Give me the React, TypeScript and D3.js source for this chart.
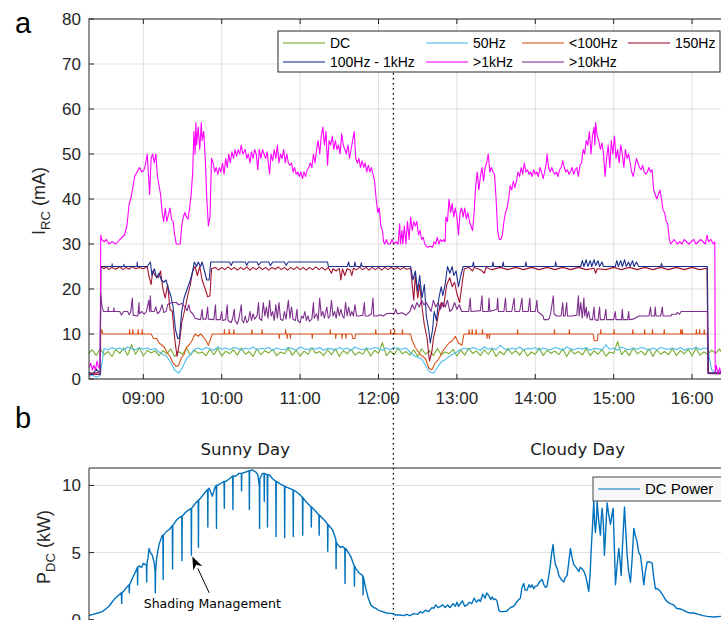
import React from 'react';
import * as d3 from 'd3';

// ---- data (times in decimal hours) ----
const xTickHours = [9, 10, 11, 12, 13, 14, 15, 16];
const xTickLabels = ['09:00', '10:00', '11:00', '12:00', '13:00', '14:00', '15:00', '16:00'];
const yTopTicks = [0, 10, 20, 30, 40, 50, 60, 70, 80];
const yBotTicks = [0, 5, 10];
const divideHour = 12.19;

// DC and 50Hz sampled every 3 minutes starting 08:18
const sampleStart = 8.3;
const sampleStep = 0.05;
const dcValues = [
  5.6, 6.5, 5.2, 6.8, 5.4, 6.1, 5.0, 6.6, 5.7, 6.9,
  5.3, 7.6, 5.5, 7.0, 5.1, 6.4, 5.8, 6.3, 5.2, 6.3,
  5.6, 6.7, 5.0, 6.1, 5.5, 6.9, 5.3, 6.4, 5.7, 6.0,
  5.2, 6.6, 5.4, 6.8, 5.1, 6.2, 5.6, 6.5, 5.3, 6.9,
  5.5, 6.1, 5.0, 6.7, 5.4, 6.3, 5.8, 6.6, 5.2, 6.0,
  5.6, 6.8, 5.3, 6.4, 5.1, 6.2, 5.5, 6.9, 5.7, 6.1,
  5.2, 6.5, 5.4, 6.7, 5.0, 6.3, 5.6, 6.6, 5.3, 6.0,
  5.5, 6.8, 5.1, 6.4, 5.7, 8.1, 5.2, 6.2, 5.4, 6.9,
  5.6, 6.1, 5.3, 6.5, 5.0, 6.7, 5.5, 6.3, 5.2, 6.8,
  5.4, 6.0, 5.6, 6.6, 5.1, 6.4, 5.3, 6.9, 5.7, 6.2,
  5.2, 6.5, 5.5, 6.7, 5.0, 6.1, 5.4, 6.8, 5.6, 6.3,
  5.3, 6.6, 5.1, 6.0, 5.5, 6.9, 5.2, 6.4, 5.7, 6.2,
  5.4, 6.7, 5.0, 6.5, 5.6, 6.1, 5.3, 6.8, 5.2, 6.3,
  5.5, 6.6, 5.1, 6.0, 5.7, 8.3, 5.4, 6.4, 5.2, 6.9,
  5.6, 6.2, 5.3, 6.7, 5.0, 6.5, 5.5, 6.1, 5.4, 6.8,
  5.2, 6.3, 5.6, 6.6, 5.1, 6.9, 5.3, 6.0, 5.5, 6.4,
  5.7, 6.7, 5.2,
];
const hz50Values = [
  0.6, 0.9, 0.4, 0.8,
  6.8, 6.5, 7.0, 6.6, 6.9, 6.4, 7.1, 6.7, 6.5, 7.0, 6.6, 6.9, 6.5, 6.8,
  6.0, 5.5, 5.0, 3.6, 2.0, 1.3, 2.6, 4.5, 5.4, 6.6,
  6.9, 6.5, 7.0, 6.7, 6.4, 7.1, 6.6, 6.9, 6.5, 7.0,
  6.8, 6.4, 6.9, 6.6, 7.1, 6.5, 6.8, 6.7, 7.0, 6.4,
  6.9, 6.6, 6.5, 7.0, 6.8, 6.4, 7.1, 6.7, 6.5, 6.9,
  6.6, 7.0, 6.4, 6.8, 6.7, 6.5, 7.0, 6.6, 6.9, 6.4,
  7.1, 6.7, 6.5, 6.9, 6.6, 7.0, 6.8, 6.4, 6.9, 6.5,
  7.0, 6.7, 6.6, 6.9,
  6.0, 5.2, 4.8, 4.5, 3.0, 1.6, 1.3, 2.5, 3.8, 4.3, 5.0, 5.5, 6.0, 6.6,
  6.9, 6.5, 7.0, 6.7, 6.4, 7.1, 6.6, 6.9, 6.5, 7.5,
  6.8, 6.4, 6.9, 6.6, 7.1, 6.5, 6.8, 6.7, 7.0, 6.4,
  6.9, 6.6, 6.5, 7.0, 6.8, 6.4, 7.1, 6.7, 6.5, 6.9,
  6.6, 7.0, 6.4, 6.8, 6.7, 6.5, 7.6, 6.6, 6.9, 6.4,
  7.1, 6.7, 6.5, 6.9, 6.6, 7.0, 6.8, 6.4, 6.9, 6.5,
  7.0, 6.7, 6.6, 6.9, 6.5, 7.0, 6.4, 6.8, 6.6, 7.1,
  6.5, 6.9, 6.7,
  2.0, 1.4, 1.8, 1.2,
];

const lt100Hz: [number, number][] = [
  [8.307, 1.3], [8.45, 1.5], [8.457, 10], [8.47, 11], [8.48, 10], [8.82, 10], [8.825, 11], [8.83, 10],
  [8.86, 10], [8.865, 11], [8.87, 10], [8.93, 10], [8.935, 11], [8.94, 10], [8.98, 10], [8.985, 11],
  [8.99, 10], [9.1, 10], [9.13, 9], [9.17, 9], [9.2, 8], [9.24, 7.5], [9.27, 7], [9.3, 6], [9.34, 5],
  [9.38, 3.5], [9.42, 2.8], [9.45, 3.0], [9.48, 4.5], [9.52, 5.5], [9.55, 7], [9.58, 7.5], [9.62, 8.5],
  [9.66, 10], [9.7, 9.5], [9.73, 10], [9.76, 9.5], [9.8, 8.5], [9.83, 7.5], [9.86, 9], [9.88, 10],
  [10.03, 10], [10.035, 11], [10.04, 10], [10.09, 10], [10.095, 11], [10.1, 10], [10.15, 10], [10.155, 11],
  [10.16, 10], [10.38, 10], [10.385, 11], [10.39, 10], [10.51, 10], [10.515, 11], [10.52, 10], [10.73, 10],
  [10.735, 9], [10.74, 10], [10.81, 10], [10.815, 11], [10.82, 10], [10.83, 10], [10.835, 9], [10.84, 10],
  [10.87, 10], [10.875, 9], [10.88, 10], [11.15, 10], [11.155, 9], [11.16, 10], [11.38, 10], [11.385, 11],
  [11.39, 10], [11.45, 10], [11.455, 9], [11.46, 10], [11.53, 10], [11.535, 9], [11.54, 10], [11.58, 10],
  [11.585, 9], [11.59, 10], [11.66, 10], [11.67, 9], [11.7, 9], [11.705, 10], [11.96, 10], [11.965, 11],
  [11.97, 10], [12.15, 10], [12.155, 11], [12.16, 10], [12.2, 10], [12.205, 11], [12.21, 10], [12.3, 10],
  [12.305, 11], [12.31, 10], [12.41, 10], [12.43, 8.5], [12.47, 7], [12.53, 5.5], [12.6, 4.5], [12.64, 2.5],
  [12.68, 2.0], [12.72, 3.5], [12.77, 4.5], [12.83, 6.5], [12.9, 8.0], [12.94, 8.5], [12.98, 9.5], [13.02, 8],
  [13.065, 7.5], [13.09, 10], [13.15, 10], [13.155, 11], [13.16, 10], [13.19, 10], [13.195, 11], [13.2, 10],
  [13.24, 10], [13.245, 11], [13.25, 10], [13.32, 10], [13.325, 11], [13.33, 10], [13.38, 10], [13.385, 9],
  [13.39, 10], [13.41, 10], [13.415, 9], [13.42, 10], [13.77, 10], [13.775, 11], [13.78, 10], [14.24, 10],
  [14.245, 11], [14.25, 10], [14.43, 10], [14.435, 11], [14.44, 10], [14.74, 10], [14.75, 8.5], [14.79, 8.5],
  [14.8, 10], [14.83, 10], [14.835, 11], [14.84, 10], [15.0, 10], [15.005, 11], [15.01, 10], [15.24, 10],
  [15.245, 11], [15.25, 10], [15.39, 10], [15.395, 11], [15.4, 10], [15.49, 10], [15.495, 11], [15.5, 10],
  [15.64, 10], [15.645, 11], [15.65, 10], [15.85, 10], [15.855, 11], [15.86, 10], [15.87, 10], [15.875, 11],
  [15.88, 10], [16.05, 10], [16.055, 11], [16.06, 10], [16.09, 10], [16.095, 11], [16.1, 10], [16.15, 10],
  [16.155, 11], [16.16, 10], [16.195, 10], [16.2, 5], [16.205, 1.3], [16.42, 1.3],
];

const hz150: [number, number][] = [
  [8.307, 1.0], [8.45, 1.0], [8.457, 25], [8.5, 24.5], [8.53, 25], [8.56, 24.3], [8.6, 24.8], [8.65, 24.4],
  [8.7, 25], [8.74, 24.3], [8.78, 24.8], [8.82, 24.4], [8.86, 25], [8.9, 24.5], [8.95, 24.8], [9.0, 24.5],
  [9.05, 25], [9.07, 23], [9.1, 21], [9.12, 24], [9.15, 23], [9.19, 22.5], [9.22, 24], [9.25, 20], [9.28, 18],
  [9.31, 21], [9.34, 15.5], [9.37, 15], [9.4, 9], [9.43, 5], [9.46, 8], [9.49, 12.5], [9.53, 15.5], [9.56, 18],
  [9.6, 21], [9.63, 24], [9.66, 25], [9.69, 23], [9.72, 25], [9.75, 22], [9.79, 20], [9.82, 18.3], [9.85, 18.5],
  [9.87, 24.5], [9.92, 24.8], [9.96, 24.2], [10.0, 24.8], [10.04, 24.3], [10.08, 24.9], [10.12, 24.3],
  [10.16, 24.8], [10.2, 24.2], [10.24, 24.8], [10.28, 24.3], [10.32, 24.9], [10.36, 24.2], [10.4, 24.8],
  [10.44, 24.3], [10.48, 24.9], [10.52, 24.3], [10.56, 24.8], [10.6, 24.2], [10.64, 24.8], [10.68, 24.4],
  [10.72, 24.9], [10.76, 24.3], [10.8, 24.8], [10.84, 24.2], [10.88, 24.8], [10.92, 24.3], [10.96, 24.9],
  [11.0, 24.3], [11.04, 24.8], [11.08, 24.2], [11.12, 24.8], [11.16, 24.3], [11.2, 24.9], [11.24, 24.3],
  [11.28, 24.8], [11.32, 24.2], [11.36, 24.8], [11.4, 23.5], [11.42, 24.5], [11.46, 24], [11.5, 24.6],
  [11.52, 22], [11.54, 24.5], [11.57, 23], [11.6, 24.5], [11.64, 24.2], [11.66, 23], [11.68, 24.6],
  [11.72, 24.3], [11.76, 24.8], [11.8, 24.3], [11.84, 24.8], [11.88, 24.2], [11.92, 24.8], [11.96, 24.3],
  [12.0, 24.8], [12.04, 24.2], [12.08, 24.8], [12.12, 24.3], [12.16, 24.8], [12.2, 24.4], [12.24, 24.8],
  [12.28, 24.3], [12.32, 24.8], [12.36, 24.4], [12.41, 24.6], [12.43, 21], [12.45, 17.5], [12.47, 23],
  [12.5, 18], [12.525, 21], [12.555, 16], [12.585, 12], [12.62, 9], [12.65, 4], [12.68, 6], [12.7, 9],
  [12.74, 12], [12.77, 15], [12.8, 17], [12.83, 16], [12.87, 21], [12.91, 22.5], [12.94, 20.5], [12.97, 21.5],
  [13.0, 19], [13.035, 17], [13.065, 21], [13.095, 24.5], [13.15, 24.8], [13.2, 24], [13.22, 24.8],
  [13.3, 24.3], [13.35, 23.5], [13.37, 24.8], [13.45, 24.3], [13.55, 24.8], [13.65, 24.3], [13.75, 24.8],
  [13.85, 24.3], [13.95, 24.8], [14.05, 24.3], [14.15, 24.8], [14.25, 24.3], [14.35, 24.8], [14.45, 24.3],
  [14.55, 24.8], [14.65, 24.3], [14.75, 24.6], [14.77, 23.5], [14.79, 24.5], [14.9, 24.3], [15.0, 24.8],
  [15.1, 24.3], [15.2, 24.8], [15.3, 24.3], [15.4, 24.8], [15.5, 24.3], [15.6, 24.8], [15.7, 24.3],
  [15.8, 24.8], [15.9, 24.3], [16.0, 24.8], [16.1, 24.3], [16.19, 24.6], [16.2, 10.5], [16.21, 1.2], [16.42, 1.2],
];

const hz100to1k: [number, number][] = [
  [8.307, 1.5], [8.35, 1.0], [8.4, 2.2], [8.45, 1.2], [8.457, 25], [8.6, 25], [8.602, 25.6], [8.606, 25],
  [8.75, 25], [8.752, 25.5], [8.756, 25], [8.92, 25], [8.922, 26], [8.926, 25], [9.05, 25], [9.07, 25.5],
  [9.09, 26], [9.11, 23], [9.14, 24.5], [9.17, 22.5], [9.2, 23.5], [9.23, 22], [9.26, 21.5], [9.29, 22],
  [9.32, 20], [9.35, 18.5], [9.38, 16], [9.41, 11], [9.44, 9], [9.46, 9], [9.49, 15], [9.52, 18], [9.55, 19.5],
  [9.58, 21], [9.6, 22], [9.63, 24], [9.65, 26], [9.68, 25], [9.7, 26], [9.73, 25], [9.75, 26], [9.78, 24],
  [9.81, 22], [9.84, 22], [9.86, 26], [10.1, 26], [10.12, 25.2], [10.14, 26], [10.3, 26], [10.32, 25.3],
  [10.34, 26], [10.45, 26], [10.47, 25.3], [10.5, 26], [10.6, 26], [10.62, 25.2], [10.65, 26], [10.8, 26],
  [10.82, 25.3], [10.85, 26], [11.35, 26], [11.36, 25], [11.6, 25], [11.62, 26], [11.63, 25], [11.69, 25],
  [11.7, 26], [11.71, 25], [11.77, 25], [11.78, 25.8], [11.79, 25], [12.41, 25], [12.44, 22], [12.47, 24],
  [12.5, 19.5], [12.525, 23], [12.555, 18], [12.585, 21], [12.61, 14], [12.64, 11], [12.66, 8], [12.69, 11],
  [12.71, 15], [12.74, 13], [12.77, 18], [12.8, 20.5], [12.82, 18.5], [12.85, 21], [12.88, 25], [12.91, 23.5],
  [12.94, 25], [12.96, 23], [12.99, 24], [13.02, 20.5], [13.05, 23], [13.08, 25], [13.2, 25], [13.21, 26],
  [13.22, 25], [13.45, 25], [13.46, 26], [13.47, 25], [13.58, 25], [13.59, 26], [13.6, 25], [13.87, 25],
  [13.88, 26], [13.89, 25], [14.25, 25], [14.26, 26], [14.27, 25], [14.58, 25], [14.6, 26.3], [14.62, 25],
  [14.65, 26.5], [14.67, 25], [14.7, 26.3], [14.72, 25], [14.75, 26.5], [14.77, 25.2], [14.8, 26.3],
  [14.82, 25], [14.85, 26], [14.87, 25], [15.02, 25], [15.04, 26.3], [15.06, 25], [15.09, 26.3], [15.11, 25],
  [15.14, 26.5], [15.16, 25], [15.19, 26], [15.21, 25], [15.24, 26.3], [15.26, 25], [15.29, 26], [15.32, 25],
  [15.6, 25], [15.61, 25.7], [15.62, 25], [16.195, 25], [16.207, 1.3], [16.42, 1.3],
];

const gt1kHz: [number, number][] = [
  [8.307, 2.5], [8.33, 3.5], [8.35, 2], [8.37, 3], [8.39, 2], [8.41, 4], [8.43, 2.5], [8.45, 3], [8.457, 32],
  [8.47, 31], [8.5, 30.5], [8.53, 31], [8.56, 30], [8.6, 30.5], [8.65, 30], [8.7, 31], [8.73, 31.5], [8.76, 32],
  [8.79, 34], [8.82, 39], [8.84, 40], [8.87, 43], [8.89, 45], [8.92, 46], [8.95, 47], [8.98, 46], [9.01, 46.5],
  [9.03, 48], [9.05, 50], [9.06, 47], [9.08, 41], [9.1, 49], [9.12, 50], [9.14, 48], [9.16, 50], [9.18, 45],
  [9.2, 43], [9.22, 41], [9.24, 37], [9.26, 35], [9.28, 38], [9.3, 35], [9.32, 36.5], [9.34, 38], [9.36, 35.5],
  [9.38, 35], [9.4, 32], [9.42, 30], [9.47, 30], [9.49, 34], [9.51, 36], [9.53, 37], [9.55, 36], [9.57, 35.5],
  [9.59, 38], [9.61, 41], [9.63, 46], [9.645, 55], [9.66, 50], [9.67, 57], [9.68, 52], [9.7, 56], [9.72, 51],
  [9.74, 57], [9.75, 53], [9.77, 55], [9.79, 49], [9.81, 40], [9.83, 34], [9.85, 36], [9.87, 49], [9.89, 48],
  [9.91, 46], [9.93, 47], [9.95, 45.5], [9.97, 47], [9.99, 46], [10.01, 48], [10.03, 45.5], [10.05, 49],
  [10.07, 47], [10.09, 50], [10.11, 48], [10.13, 50.5], [10.15, 49], [10.17, 51], [10.19, 49.5], [10.21, 51],
  [10.23, 50], [10.25, 52], [10.27, 50], [10.3, 51], [10.32, 49], [10.34, 50], [10.36, 48], [10.38, 50.5],
  [10.4, 49], [10.42, 51], [10.44, 50], [10.46, 46.5], [10.48, 51], [10.5, 49], [10.52, 51], [10.54, 50],
  [10.56, 49], [10.58, 50.5], [10.61, 45.5], [10.63, 50], [10.65, 48.5], [10.67, 51], [10.69, 49], [10.71, 52],
  [10.73, 48], [10.75, 50], [10.77, 49], [10.79, 51], [10.81, 48], [10.83, 50], [10.85, 48], [10.87, 47.5],
  [10.89, 48], [10.91, 46], [10.93, 47], [10.95, 45.5], [10.97, 46], [10.99, 45], [11.01, 46], [11.03, 44.5],
  [11.05, 46], [11.07, 45], [11.09, 46.5], [11.11, 47], [11.13, 48], [11.15, 47], [11.17, 50], [11.19, 48],
  [11.21, 51], [11.23, 53], [11.25, 50], [11.27, 54], [11.29, 56], [11.31, 52], [11.33, 55], [11.35, 47.5],
  [11.37, 53], [11.39, 52], [11.41, 54], [11.43, 51], [11.45, 53], [11.47, 51], [11.49, 52], [11.51, 50],
  [11.53, 54.5], [11.55, 52], [11.57, 51], [11.59, 50], [11.61, 52], [11.63, 49], [11.65, 51], [11.67, 53],
  [11.69, 55], [11.71, 49], [11.73, 48], [11.75, 49], [11.77, 47], [11.79, 48.5], [11.81, 47], [11.83, 48],
  [11.85, 46], [11.87, 47.5], [11.89, 46], [11.91, 47], [11.93, 45.5], [11.95, 44], [11.97, 40], [11.99, 37],
  [12.01, 38], [12.03, 34], [12.05, 33], [12.065, 30.5], [12.08, 30], [12.1, 31], [12.12, 30], [12.15, 30],
  [12.17, 31], [12.2, 30], [12.22, 30.5], [12.25, 30], [12.27, 34.5], [12.28, 30], [12.3, 33], [12.31, 30],
  [12.33, 34], [12.35, 30], [12.37, 35], [12.39, 31], [12.41, 36], [12.43, 33], [12.45, 35], [12.47, 34],
  [12.49, 35], [12.51, 32], [12.53, 33], [12.55, 31], [12.57, 31.5], [12.59, 30], [12.61, 29.5], [12.63, 29.3],
  [12.66, 29.5], [12.69, 29.3], [12.71, 30.5], [12.73, 30], [12.75, 31.5], [12.77, 30], [12.79, 31],
  [12.81, 30.5], [12.83, 31], [12.85, 30.5], [12.86, 36], [12.88, 35], [12.9, 40], [12.92, 37], [12.94, 39],
  [12.96, 36], [12.98, 38], [13.0, 36], [13.02, 32], [13.04, 37], [13.06, 38], [13.08, 36], [13.1, 38],
  [13.12, 35.5], [13.14, 37], [13.16, 35], [13.18, 34], [13.2, 33], [13.22, 37], [13.24, 43], [13.26, 46],
  [13.28, 42], [13.3, 45], [13.32, 47], [13.34, 44], [13.36, 47], [13.38, 48], [13.4, 50], [13.42, 46],
  [13.44, 47], [13.46, 46], [13.48, 45.5], [13.5, 40], [13.52, 33], [13.54, 31], [13.56, 31], [13.58, 32],
  [13.6, 35], [13.62, 37], [13.64, 38], [13.66, 40], [13.68, 43], [13.7, 42], [13.72, 44], [13.74, 42.5],
  [13.76, 44], [13.78, 46], [13.8, 45], [13.82, 47], [13.84, 45.5], [13.86, 48], [13.88, 46], [13.9, 46.5],
  [13.92, 45.5], [13.94, 46], [13.96, 45], [13.98, 46.5], [14.0, 45.5], [14.02, 46], [14.04, 45], [14.06, 47],
  [14.08, 46], [14.1, 44.5], [14.12, 46], [14.14, 48], [14.15, 50], [14.17, 47], [14.19, 46], [14.21, 47],
  [14.23, 46], [14.25, 45.5], [14.27, 46], [14.29, 45], [14.31, 46.5], [14.33, 47], [14.35, 48.5], [14.37, 47],
  [14.39, 46], [14.41, 46.5], [14.43, 45.5], [14.45, 46], [14.47, 47], [14.49, 45.5], [14.51, 46.5], [14.53, 47],
  [14.55, 45], [14.57, 47.5], [14.59, 48], [14.61, 51], [14.63, 50], [14.65, 53], [14.67, 52], [14.69, 55],
  [14.71, 50], [14.73, 54], [14.75, 56], [14.76, 52], [14.77, 57], [14.79, 54], [14.81, 53], [14.83, 51],
  [14.85, 52.5], [14.87, 50], [14.89, 45], [14.91, 49], [14.93, 52], [14.95, 47], [14.97, 53], [14.99, 50],
  [15.01, 54], [15.03, 49], [15.05, 51], [15.07, 48], [15.09, 52], [15.11, 50], [15.13, 47], [15.15, 51],
  [15.17, 49], [15.19, 50], [15.21, 48], [15.23, 46], [15.25, 45], [15.27, 47], [15.29, 49], [15.31, 48],
  [15.33, 47], [15.35, 46.5], [15.37, 47.5], [15.39, 46], [15.41, 45.5], [15.43, 46], [15.45, 47], [15.47, 46],
  [15.49, 46.5], [15.51, 42], [15.53, 41], [15.55, 40], [15.57, 41], [15.59, 42], [15.61, 40], [15.63, 37.5],
  [15.65, 37], [15.67, 35], [15.69, 34.5], [15.71, 31], [15.73, 30], [15.75, 30.5], [15.77, 31], [15.79, 30.5],
  [15.81, 30], [15.84, 30.5], [15.87, 30], [15.9, 31], [15.93, 30.5], [15.96, 30], [15.99, 30.5], [16.02, 31],
  [16.05, 30], [16.08, 30.5], [16.11, 31], [16.14, 30.5], [16.17, 30], [16.19, 32], [16.21, 30.5], [16.24, 31],
  [16.27, 30], [16.29, 30.5], [16.295, 1.5], [16.31, 3], [16.33, 1], [16.35, 2.5], [16.37, 1.2], [16.4, 2],
  [16.42, 1.5],
];

const gt10kHz: [number, number][] = [
  [8.307, 1.2], [8.45, 1.4], [8.457, 19], [8.47, 16.5], [8.49, 15], [8.55, 15], [8.552, 16], [8.556, 15],
  [8.62, 15], [8.625, 15.8], [8.63, 15], [8.7, 15], [8.72, 14.2], [8.75, 15], [8.8, 15], [8.82, 14.3], [8.84, 15],
  [8.86, 18], [8.87, 14.2], [8.93, 14], [8.945, 17], [8.95, 14.5], [8.98, 15], [9.01, 14.4], [9.04, 15],
  [9.07, 17.5], [9.08, 15], [9.09, 18.5], [9.1, 15], [9.14, 15], [9.16, 16], [9.18, 14.5], [9.21, 15],
  [9.24, 16.5], [9.26, 14.8], [9.29, 15], [9.31, 16.5], [9.33, 16.8], [9.38, 17], [9.42, 17], [9.45, 16.5],
  [9.49, 16.8], [9.53, 16], [9.56, 15.2], [9.58, 16.5], [9.6, 15], [9.63, 14.5], [9.66, 13.5], [9.7, 13.3],
  [9.73, 13.2], [9.75, 15.5], [9.76, 13.3], [9.8, 13.3], [9.82, 16], [9.83, 13.3], [9.9, 13.2], [9.92, 16.5],
  [9.93, 13.2], [9.98, 13.2], [10.0, 15], [10.01, 13], [10.05, 13.2], [10.07, 16.5], [10.08, 13], [10.12, 12.5],
  [10.14, 13.5], [10.16, 15.5], [10.17, 13], [10.2, 12.2], [10.22, 13.5], [10.25, 16.5], [10.26, 13],
  [10.28, 12.5], [10.3, 14], [10.32, 12.5], [10.34, 13], [10.36, 15], [10.38, 13], [10.4, 14.5], [10.42, 13.3],
  [10.45, 14], [10.47, 17], [10.48, 13.5], [10.51, 13], [10.53, 17], [10.55, 14], [10.57, 16], [10.59, 13.5],
  [10.61, 17.5], [10.63, 14], [10.65, 15], [10.67, 13], [10.69, 16.5], [10.71, 13.5], [10.73, 17], [10.75, 13.3],
  [10.78, 13], [10.8, 15], [10.82, 13.3], [10.85, 17.5], [10.87, 13.5], [10.89, 16], [10.91, 13.3], [10.94, 13],
  [10.96, 15.5], [10.97, 13], [11.0, 12.5], [11.02, 14], [11.04, 13.5], [11.06, 15], [11.08, 13], [11.1, 14],
  [11.12, 12.8], [11.15, 13.3], [11.17, 17], [11.18, 13.5], [11.21, 14.5], [11.23, 13], [11.25, 18], [11.27, 14],
  [11.29, 15], [11.31, 13.5], [11.34, 16], [11.36, 13.5], [11.38, 14], [11.4, 17.5], [11.42, 14], [11.44, 15],
  [11.46, 13.5], [11.48, 16], [11.5, 14], [11.52, 15.5], [11.54, 14], [11.56, 13.5], [11.58, 17], [11.6, 14],
  [11.62, 16], [11.64, 14], [11.66, 15], [11.68, 14], [11.7, 16.5], [11.72, 14], [11.75, 14], [11.8, 14.2],
  [11.82, 17], [11.83, 14], [11.87, 14], [11.91, 14.5], [11.93, 18], [11.94, 14], [11.98, 14], [12.02, 14.3],
  [12.06, 14], [12.1, 14.5], [12.15, 14.6], [12.2, 14.5], [12.22, 15.5], [12.24, 14.5], [12.3, 14.7],
  [12.35, 14.2], [12.4, 15], [12.43, 16.5], [12.46, 15.5], [12.49, 17], [12.52, 16], [12.55, 17.5], [12.58, 16.5],
  [12.61, 17], [12.64, 16], [12.67, 15], [12.7, 17.5], [12.73, 16], [12.76, 17], [12.79, 15.5], [12.82, 17],
  [12.85, 16], [12.88, 17.5], [12.91, 15], [12.94, 15.5], [12.97, 17], [13.0, 15.5], [13.03, 16.5], [13.06, 15],
  [13.15, 15], [13.17, 18], [13.18, 15], [13.3, 15.2], [13.32, 18.5], [13.33, 15], [13.4, 15], [13.41, 18],
  [13.42, 15], [13.51, 15.5], [13.52, 18], [13.53, 15], [13.6, 15], [13.62, 18], [13.63, 15], [13.7, 15],
  [13.73, 18], [13.74, 15], [13.8, 15], [13.83, 18], [13.84, 15], [13.91, 15], [13.93, 18], [13.94, 15],
  [14.0, 15], [14.02, 17.5], [14.03, 15], [14.1, 14], [14.11, 13.2], [14.16, 13.2], [14.18, 13.5], [14.2, 15],
  [14.23, 18.5], [14.24, 14.5], [14.27, 14], [14.33, 14], [14.35, 17], [14.36, 14], [14.38, 14], [14.4, 17],
  [14.41, 14], [14.47, 14], [14.53, 14.2], [14.55, 18.5], [14.56, 14], [14.58, 17], [14.6, 13.5], [14.62, 18],
  [14.63, 14], [14.65, 16], [14.66, 13.5], [14.68, 15], [14.7, 13.2], [14.73, 13.2], [14.75, 16], [14.76, 13.2],
  [14.8, 13], [14.82, 16], [14.83, 13.2], [14.88, 13.2], [14.9, 15.5], [14.91, 13.2], [15.0, 13.2], [15.02, 15],
  [15.03, 13.2], [15.1, 13.2], [15.11, 15.5], [15.12, 13.2], [15.18, 13.2], [15.19, 15], [15.2, 13.2],
  [15.25, 13.3], [15.32, 14], [15.45, 14], [15.47, 16], [15.48, 14], [15.52, 14], [15.53, 16], [15.54, 14],
  [15.6, 14], [15.62, 16], [15.63, 14], [15.73, 14], [15.74, 14.4], [15.8, 14.4], [15.81, 14.8], [15.84, 14.4],
  [15.86, 15], [16.195, 15], [16.2, 1.3], [16.42, 1.4],
];

const dcPower: [number, number][] = [
  [8.3, 0.3], [8.36, 0.4], [8.42, 0.5], [8.477, 0.6], [8.52, 0.8], [8.562, 1.0], [8.6, 1.3], [8.626, 1.5],
  [8.68, 1.8], [8.72, 2.0], [8.724, 1.2], [8.728, 2.0], [8.76, 2.2], [8.8, 2.5], [8.818, 2.6], [8.821, 2.0],
  [8.824, 2.6], [8.839, 2.8], [8.87, 3.2], [8.903, 3.6], [8.924, 3.9], [8.927, 2.6], [8.93, 3.9], [8.945, 4.0],
  [8.98, 3.9], [9.0, 4.2], [9.03, 4.1], [9.04, 4.0], [9.043, 2.8], [9.046, 4.2], [9.06, 4.6], [9.073, 5.3],
  [9.09, 5.0], [9.115, 4.8], [9.14, 4.2], [9.15, 3.6], [9.153, 2.0], [9.156, 3.6], [9.17, 4.6], [9.2, 5.6],
  [9.243, 6.3], [9.25, 6.3], [9.253, 3.0], [9.256, 6.3], [9.3, 6.6], [9.328, 6.7], [9.37, 7.0], [9.373, 3.8],
  [9.376, 7.0], [9.42, 7.4], [9.456, 7.6], [9.49, 7.7], [9.493, 4.4], [9.496, 7.7], [9.54, 8.0], [9.584, 8.2],
  [9.61, 8.3], [9.613, 4.8], [9.616, 8.3], [9.669, 8.7], [9.7, 8.9], [9.703, 5.4], [9.706, 8.9], [9.75, 9.2],
  [9.796, 9.55], [9.82, 9.7], [9.823, 6.9], [9.826, 9.7], [9.839, 9.8], [9.86, 9.5], [9.881, 9.2], [9.91, 9.8],
  [9.93, 10.0], [9.933, 6.8], [9.936, 10.0], [9.945, 10.0], [10.0, 10.2], [10.03, 10.3], [10.033, 8.3],
  [10.036, 10.3], [10.052, 10.3], [10.1, 10.5], [10.14, 10.7], [10.143, 8.2], [10.146, 10.7], [10.18, 10.7],
  [10.222, 10.9], [10.25, 10.9], [10.253, 9.6], [10.256, 10.9], [10.307, 11.0], [10.35, 11.1], [10.353, 8.2],
  [10.356, 11.1], [10.392, 11.15], [10.435, 11.0], [10.46, 10.8], [10.477, 10.05], [10.48, 10.3],
  [10.483, 6.8], [10.486, 10.5], [10.52, 10.9], [10.54, 10.9], [10.543, 8.8], [10.546, 10.9], [10.58, 10.8],
  [10.584, 6.9], [10.588, 10.8], [10.605, 10.8], [10.65, 10.5], [10.69, 10.3], [10.693, 6.2], [10.696, 10.3],
  [10.75, 10.1], [10.8, 9.95], [10.803, 6.1], [10.806, 9.95], [10.818, 9.9], [10.88, 9.75], [10.91, 9.65],
  [10.913, 6.2], [10.916, 9.65], [10.945, 9.55], [11.0, 9.3], [11.03, 9.1], [11.033, 6.3], [11.036, 9.1],
  [11.073, 8.8], [11.14, 8.4], [11.143, 6.9], [11.146, 8.4], [11.2, 8.06], [11.24, 7.8], [11.243, 6.3],
  [11.246, 7.8], [11.328, 7.3], [11.35, 7.1], [11.353, 5.1], [11.356, 7.1], [11.413, 6.7], [11.456, 6.0],
  [11.459, 3.8], [11.462, 5.8], [11.477, 5.6], [11.51, 5.4], [11.541, 5.45], [11.57, 5.3], [11.573, 2.7],
  [11.576, 5.3], [11.584, 5.3], [11.647, 4.7], [11.69, 4.0], [11.693, 2.5], [11.696, 4.0], [11.711, 3.8],
  [11.75, 3.5], [11.796, 3.3], [11.8, 3.2], [11.803, 1.85], [11.806, 3.2], [11.839, 2.3], [11.87, 1.6],
  [11.903, 1.1], [11.94, 0.9], [11.967, 0.85], [12.0, 0.7], [12.052, 0.6], [12.1, 0.5], [12.18, 0.45],
  [12.22, 0.35], [12.278, 0.35], [12.32, 0.3], [12.36, 0.4], [12.4, 0.3], [12.45, 0.45], [12.5, 0.4],
  [12.533, 0.6], [12.56, 0.5], [12.6, 0.7], [12.64, 0.6], [12.68, 0.9], [12.703, 0.85], [12.73, 1.1],
  [12.76, 0.9], [12.789, 1.0], [12.82, 1.1], [12.85, 0.9], [12.88, 1.1], [12.916, 0.9], [12.95, 1.2],
  [12.98, 1.0], [13.0, 1.3], [13.02, 1.0], [13.044, 1.2], [13.07, 1.4], [13.1, 1.0], [13.129, 1.1],
  [13.16, 1.3], [13.19, 1.2], [13.22, 1.6], [13.25, 1.3], [13.28, 1.5], [13.299, 1.35], [13.33, 1.9],
  [13.36, 1.6], [13.38, 2.0], [13.406, 1.8], [13.43, 1.5], [13.45, 1.7], [13.469, 1.5], [13.49, 1.55],
  [13.512, 1.4], [13.535, 0.7], [13.555, 0.6], [13.6, 0.6], [13.64, 0.65], [13.68, 0.9], [13.725, 1.0],
  [13.76, 1.3], [13.79, 1.5], [13.81, 1.6], [13.83, 2.4], [13.852, 2.7], [13.87, 2.2], [13.895, 2.2],
  [13.92, 2.6], [13.94, 2.4], [13.959, 2.6], [13.98, 2.3], [14.0, 2.5], [14.023, 2.5], [14.05, 2.8],
  [14.07, 2.9], [14.087, 3.0], [14.11, 2.6], [14.13, 2.4], [14.15, 2.5], [14.17, 3.2], [14.193, 4.1],
  [14.21, 5.0], [14.227, 5.6], [14.24, 4.8], [14.257, 4.1], [14.28, 3.8], [14.3, 3.3], [14.33, 3.0],
  [14.363, 2.8], [14.38, 3.1], [14.406, 3.3], [14.425, 4.2], [14.448, 5.3], [14.47, 4.6], [14.491, 4.1],
  [14.52, 3.9], [14.555, 3.6], [14.575, 3.9], [14.597, 3.8], [14.62, 3.6], [14.64, 3.3], [14.66, 2.8],
  [14.682, 2.1], [14.7, 3.5], [14.712, 5.1], [14.73, 7.0], [14.746, 8.8], [14.757, 7.2], [14.767, 6.5],
  [14.78, 7.5], [14.789, 8.8], [14.8, 8.0], [14.81, 7.3], [14.831, 6.3], [14.842, 7.6], [14.852, 8.3],
  [14.868, 7.2], [14.882, 4.8], [14.9, 6.8], [14.916, 8.7], [14.935, 7.9], [14.959, 7.1], [14.975, 7.7],
  [14.993, 8.3], [15.008, 5.5], [15.023, 2.6], [15.04, 3.8], [15.065, 5.3], [15.08, 4.5], [15.095, 3.3],
  [15.115, 5.8], [15.138, 8.4], [15.155, 6.5], [15.172, 4.8], [15.19, 3.6], [15.214, 2.8], [15.235, 4.5],
  [15.257, 6.8], [15.275, 6.3], [15.299, 5.8], [15.32, 5.0], [15.342, 4.8], [15.36, 3.9], [15.384, 2.6],
  [15.405, 3.6], [15.427, 4.3], [15.46, 4.3], [15.491, 4.2], [15.51, 3.2], [15.533, 2.3], [15.56, 2.3],
  [15.597, 2.1], [15.63, 1.8], [15.66, 1.5], [15.682, 1.35], [15.72, 1.2], [15.767, 1.1], [15.8, 0.85],
  [15.85, 0.8], [15.895, 0.7], [15.94, 0.55], [15.98, 0.5], [16.023, 0.5], [16.08, 0.4], [16.14, 0.3],
  [16.193, 0.25], [16.28, 0.2], [16.363, 0.25], [16.42, 0.2],
];

// annotation anchors (hour, kW)
const arrowTip: [number, number] = [9.625, 4.7];
const arrowTail: [number, number] = [9.84, 2.0];
const annotationAt: [number, number] = [9.88, 0.85];

const toPairs = (vals: number[]): [number, number][] =>
  vals.map((v, i) => [sampleStart + i * sampleStep, v]);

const topSeries = [
  { name: 'DC', color: '#77AC30', data: toPairs(dcValues) },
  { name: '50Hz', color: '#4DBEEE', data: toPairs(hz50Values) },
  { name: '<100Hz', color: '#D95319', data: lt100Hz },
  { name: '150Hz', color: '#A2142F', data: hz150 },
  { name: '100Hz - 1kHz', color: '#1B2F8F', data: hz100to1k },
  { name: '>1kHz', color: '#FF00FF', data: gt1kHz },
  { name: '>10kHz', color: '#7E2F8E', data: gt10kHz },
];
const legendOrder = [
  ['DC', '50Hz', '<100Hz', '150Hz'],
  ['100Hz - 1kHz', '>1kHz', '>10kHz'],
];

const W = 721;
const H = 620;
const font = "'Liberation Sans', Arial, sans-serif";
const axisColor = '#262626';
const gridColor = '#dfdfdf';

const App = () => {
  const x = d3.scaleLinear().domain([8.307, 16.42]).range([89, 725]);
  const yTop = d3.scaleLinear().domain([0, 80]).range([379, 19]);
  const yBot = d3.scaleLinear().domain([0, 11.3]).range([619.7, 468]);

  const lineTop = d3.line<[number, number]>().x(d => x(d[0])).y(d => yTop(d[1]));
  const lineBot = d3.line<[number, number]>().x(d => x(d[0])).y(d => yBot(d[1]));

  const [x0, x1] = x.range();
  const [tB, tT] = yTop.range();
  const [bB, bT] = yBot.range();

  const legendCols = [283, 426, 522, 628];
  const legendRows = [43, 62];
  const colorOf = (n: string) => topSeries.find(s => s.name === n)!.color;

  // arrow head
  const tip = [x(arrowTip[0]), yBot(arrowTip[1])];
  const tail = [x(arrowTail[0]), yBot(arrowTail[1])];
  const ang = Math.atan2(tip[1] - tail[1], tip[0] - tail[0]);
  const hl = 13, hw = 5;
  const bx = tip[0] - hl * Math.cos(ang), by = tip[1] - hl * Math.sin(ang);
  const head = [
    [tip[0], tip[1]],
    [bx + hw * Math.sin(ang), by - hw * Math.cos(ang)],
    [tip[0] - hl * 0.7 * Math.cos(ang), tip[1] - hl * 0.7 * Math.sin(ang)],
    [bx - hw * Math.sin(ang), by + hw * Math.cos(ang)],
  ];

  return (
    <div style={{ position: 'absolute', left: 0, top: 0, width: W, height: H, background: '#fff' }}>
      <svg width={W} height={H} style={{ display: 'block' }}>
        <defs>
          <clipPath id="clipTop"><rect x={x0} y={tT} width={x1 - x0} height={tB - tT} /></clipPath>
          <clipPath id="clipBot"><rect x={x0} y={bT} width={x1 - x0} height={H - bT + 20} /></clipPath>
        </defs>
        <rect width={W} height={H} fill="#fff" />

        {/* ---- panel a ---- */}
        {yTopTicks.map(t => (
          <line key={'gy' + t} x1={x0} x2={x1} y1={yTop(t)} y2={yTop(t)} stroke={gridColor} />
        ))}
        {xTickHours.map(h => (
          <line key={'gx' + h} x1={x(h)} x2={x(h)} y1={tT} y2={tB} stroke={gridColor} />
        ))}
        <g clipPath="url(#clipTop)">
          {topSeries.map(s => (
            <path key={s.name} d={lineTop(s.data) || ''} fill="none" stroke={s.color} strokeWidth={1.1} strokeLinejoin="round" />
          ))}
        </g>
        <rect x={x0} y={tT} width={x1 - x0} height={tB - tT} fill="none" stroke={axisColor} strokeWidth={1} />
        {xTickHours.map(h => (
          <g key={'tx' + h}>
            <line x1={x(h)} x2={x(h)} y1={tB} y2={tB - 5} stroke={axisColor} />
            <line x1={x(h)} x2={x(h)} y1={tT} y2={tT + 5} stroke={axisColor} />
          </g>
        ))}
        {yTopTicks.map(t => (
          <g key={'ty' + t}>
            <line x1={x0} x2={x0 + 5} y1={yTop(t)} y2={yTop(t)} stroke={axisColor} />
            <text x={81} y={yTop(t)} dy="0.35em" textAnchor="end" fontFamily={font} fontSize={17} fill={axisColor}>{t}</text>
          </g>
        ))}
        {xTickHours.map((h, i) => (
          <text key={'lx' + h} x={x(h)} y={404} textAnchor="middle" fontFamily={font} fontSize={17} fill={axisColor}>{xTickLabels[i]}</text>
        ))}
        <text transform="translate(45,201) rotate(-90)" textAnchor="middle" fontFamily={font} fontSize={18} fill={axisColor}>
          I<tspan dy={5} fontSize={13}>RC</tspan><tspan dy={-5}> (mA)</tspan>
        </text>
        <text x={15} y={33} fontFamily={font} fontSize={29} fill="#000">a</text>

        {/* dotted divider */}
        <line x1={x(divideHour)} x2={x(divideHour)} y1={yTop(68)} y2={H} stroke="#000" strokeWidth={1.3} strokeDasharray="1.5,3.5" />

        {/* legend a */}
        <rect x={278} y={31} width={442} height={41} fill="#fff" stroke={axisColor} strokeWidth={1} />
        {legendOrder.map((row, ri) =>
          row.map((name, ci) => (
            <g key={name}>
              <line x1={legendCols[ci]} x2={legendCols[ci] + 42} y1={legendRows[ri]} y2={legendRows[ri]} stroke={colorOf(name)} strokeWidth={2} strokeOpacity={0.55} />
              <text x={legendCols[ci] + 47} y={legendRows[ri]} dy="0.36em" fontFamily={font} fontSize={14} fill="#000">{name}</text>
            </g>
          ))
        )}

        {/* ---- panel b ---- */}
        {yBotTicks.filter(t => t > 0).map(t => (
          <line key={'gb' + t} x1={x0} x2={x1} y1={yBot(t)} y2={yBot(t)} stroke={gridColor} />
        ))}
        <g clipPath="url(#clipBot)">
          <path d={lineBot(dcPower) || ''} fill="none" stroke="#0072BD" strokeWidth={1.4} strokeLinejoin="round" />
        </g>
        <line x1={x0} x2={x1} y1={bT} y2={bT} stroke={axisColor} />
        <line x1={x0} x2={x0} y1={bT} y2={H} stroke={axisColor} />
        {yBotTicks.map(t => (
          <g key={'tb' + t}>
            <line x1={x0} x2={x0 + 5} y1={yBot(t)} y2={yBot(t)} stroke={axisColor} />
            <text x={81} y={yBot(t)} dy="0.35em" textAnchor="end" fontFamily={font} fontSize={17} fill={axisColor}>{t}</text>
          </g>
        ))}
        <text transform="translate(50,547) rotate(-90)" textAnchor="middle" fontFamily={font} fontSize={18} fill={axisColor}>
          P<tspan dy={5} fontSize={13}>DC</tspan><tspan dy={-5}> (kW)</tspan>
        </text>
        <text x={15} y={428} fontFamily={font} fontSize={29} fill="#000">b</text>
        <text x={x(10.3)} y={455} textAnchor="middle" fontFamily="'DejaVu Sans', sans-serif" fontSize={16.5} fill="#1a1a1a">Sunny Day</text>
        <text x={x(14.54)} y={455} textAnchor="middle" fontFamily="'DejaVu Sans', sans-serif" fontSize={16.5} fill="#1a1a1a">Cloudy Day</text>

        {/* legend b */}
        <rect x={593} y={477} width={130} height={24} fill="#f7f7f7" stroke="#444" strokeWidth={1} />
        <line x1={598} x2={640} y1={489} y2={489} stroke="#0072BD" strokeWidth={1.2} />
        <text x={645} y={489} dy="0.36em" fontFamily={font} fontSize={15} fill="#000">DC Power</text>

        {/* annotation */}
        <line x1={tail[0]} y1={tail[1]} x2={bx} y2={by} stroke="#000" strokeWidth={1} />
        <polygon points={head.map(p => p.join(',')).join(' ')} fill="#000" />
        <text x={x(annotationAt[0])} y={yBot(annotationAt[1])} textAnchor="middle" fontFamily="'DejaVu Sans', sans-serif" fontSize={12.5} fill="#000">Shading Management</text>
      </svg>
    </div>
  );
};

export default App;
